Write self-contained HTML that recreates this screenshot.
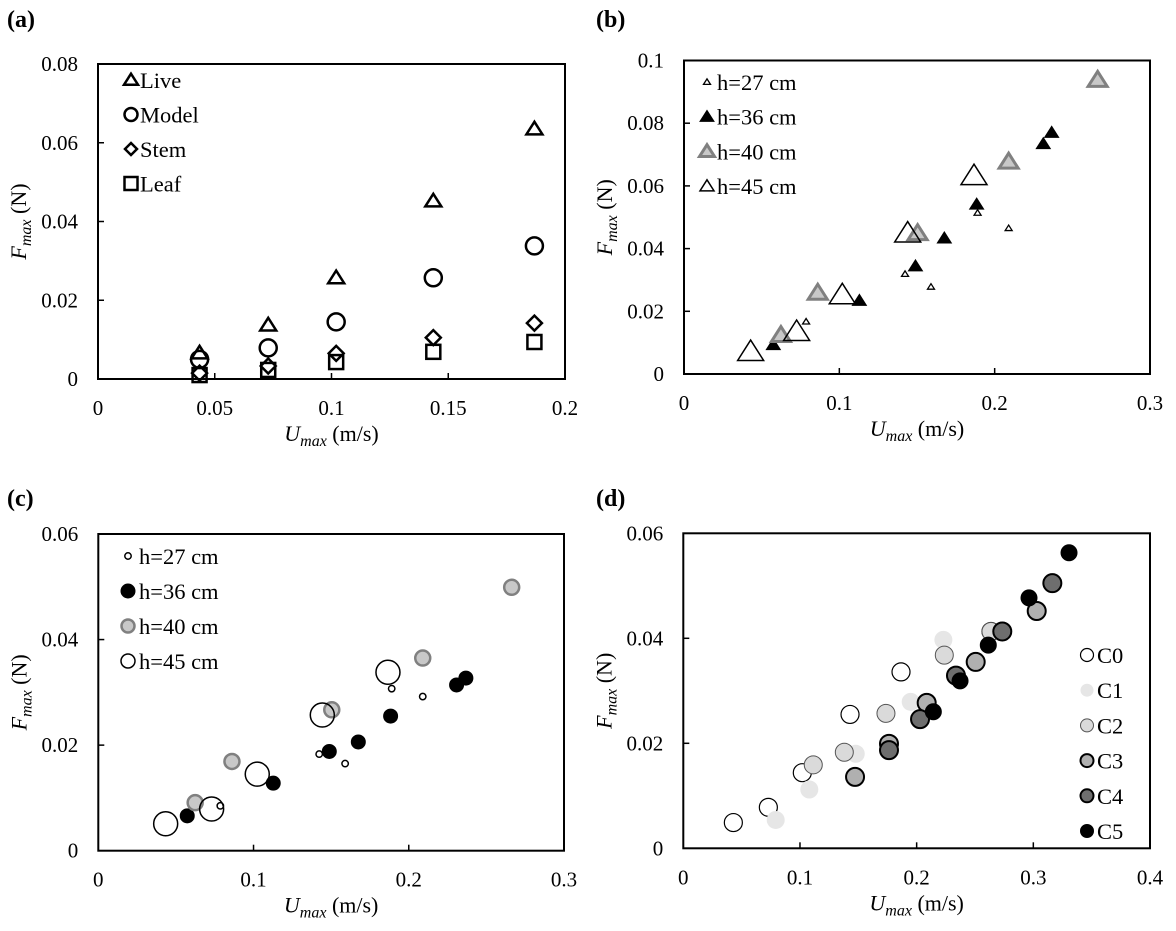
<!DOCTYPE html>
<html><head><meta charset="utf-8"><style>
body{margin:0;background:#fff}
svg{display:block;font-family:"Liberation Serif",serif}
</style></head><body>
<svg id="s" width="1176" height="931" viewBox="0 0 1176 931" xmlns="http://www.w3.org/2000/svg">
<text x="7" y="27" font-size="24" font-weight="bold">(a)</text>
<text x="596" y="27" font-size="24" font-weight="bold">(b)</text>
<text x="7" y="506" font-size="24" font-weight="bold">(c)</text>
<text x="596" y="506" font-size="24" font-weight="bold">(d)</text>
</svg>
<script>
// Panel a data
const aX = [0.0435, 0.0729, 0.102, 0.1436, 0.1869];
const aLive = [0.0066, 0.0137, 0.0257, 0.0452, 0.0635];
const aModel = [0.005, 0.0079, 0.0145, 0.0257, 0.0338];
const aStem = [0.0015, 0.0033, 0.0065, 0.0105, 0.0142];
const aLeaf = [0.001, 0.0023, 0.0043, 0.0069, 0.0094];
const aXTicks = [0, 0.05, 0.1, 0.15, 0.2];
const aYTicks = [0, 0.02, 0.04, 0.06, 0.08];
// Panel b data (triangles)
const b27X = [0.0786, 0.1423, 0.159, 0.189, 0.209];
const b27Y = [0.0167, 0.0319, 0.0278, 0.0514, 0.0465];
const b36X = [0.0575, 0.1129, 0.149, 0.1676, 0.1884, 0.2313, 0.2367];
const b36Y = [0.0093, 0.0234, 0.0344, 0.0433, 0.0541, 0.0734, 0.077];
const b40X = [0.0624, 0.0861, 0.1504, 0.209, 0.2663];
const b40Y = [0.0124, 0.0259, 0.0449, 0.0677, 0.0938];
const b45X = [0.0429, 0.0725, 0.1019, 0.144, 0.1867];
const b45Y = [0.0071, 0.0135, 0.0252, 0.0449, 0.0632];
const bXTicks = [0, 0.1, 0.2, 0.3];
const bYTicks = [0, 0.02, 0.04, 0.06, 0.08, 0.1];
// Panel c data (circles)
const c27X = [0.0786, 0.1423, 0.159, 0.189, 0.209];
const c27Y = [0.0085, 0.0183, 0.0165, 0.0307, 0.0292];
const c36X = [0.0573, 0.1127, 0.1488, 0.1675, 0.1883, 0.2308, 0.2368];
const c36Y = [0.0066, 0.0128, 0.0188, 0.0206, 0.0255, 0.0314, 0.0327];
const c40X = [0.0624, 0.0861, 0.1504, 0.209, 0.2663];
const c40Y = [0.0091, 0.0169, 0.0267, 0.0365, 0.0499];
const c45X = [0.0434, 0.073, 0.1024, 0.1443, 0.1866];
const c45Y = [0.0051, 0.0079, 0.0145, 0.0257, 0.0338];
const cXTicks = [0, 0.1, 0.2, 0.3];
const cYTicks = [0, 0.02, 0.04, 0.06];
// Panel d data
const d0X = [0.0429, 0.0729, 0.102, 0.1429, 0.1866, 0.2637];
const d0Y = [0.0049, 0.0078, 0.0144, 0.0255, 0.0336, 0.0413];
const d1X = [0.0792, 0.108, 0.1478, 0.1949, 0.2229];
const d1Y = [0.0054, 0.0112, 0.018, 0.0279, 0.0397];
const d2X = [0.1114, 0.138, 0.1737, 0.2237, 0.2637];
const d2Y = [0.0159, 0.0183, 0.0257, 0.0368, 0.0413];
const d3X = [0.1472, 0.1763, 0.2086, 0.2506, 0.3029];
const d3Y = [0.0136, 0.0199, 0.0277, 0.0355, 0.0452];
const d4X = [0.1763, 0.2029, 0.2337, 0.2734, 0.3163];
const d4Y = [0.0187, 0.0246, 0.0329, 0.0413, 0.0505];
const d5X = [0.2143, 0.2372, 0.2614, 0.2963, 0.3306];
const d5Y = [0.026, 0.0319, 0.0387, 0.0477, 0.0563];
const dXTicks = [0, 0.1, 0.2, 0.3, 0.4];
const dYTicks = [0, 0.02, 0.04, 0.06];

const NS = 'http://www.w3.org/2000/svg';
const svg = document.getElementById('s');
function mk(tag, attrs, parent) {
  const e = document.createElementNS(NS, tag);
  for (const k in attrs) e.setAttribute(k, attrs[k]);
  (parent || svg).appendChild(e);
  return e;
}
function scale(d0, d1, r0, r1) { return v => r0 + (v - d0) / (d1 - d0) * (r1 - r0); }

function marker(g, shape, cx, cy, sz, fill, stroke, sw) {
  let e;
  if (shape === 'circle') e = mk('circle', {cx: cx, cy: cy, r: sz}, g);
  else if (shape === 'tri') {
    const h = sz * 0.9;
    e = mk('polygon', {points: `${cx},${cy - h} ${cx - sz},${cy + h * 0.75} ${cx + sz},${cy + h * 0.75}`}, g);
  } else if (shape === 'diamond') {
    e = mk('polygon', {points: `${cx},${cy - sz} ${cx + sz},${cy} ${cx},${cy + sz} ${cx - sz},${cy}`}, g);
  } else {
    e = mk('rect', {x: cx - sz, y: cy - sz, width: 2 * sz, height: 2 * sz}, g);
  }
  e.setAttribute('fill', fill);
  e.setAttribute('stroke', stroke);
  e.setAttribute('stroke-width', sw);
  e.setAttribute('stroke-linejoin', 'miter');
  return e;
}

function panel(p) {
  const g = mk('g', {});
  
  
  const X = scale(p.xd[0], p.xd[1], p.l, p.r);
  const Y = scale(p.yd[0], p.yd[1], p.b, p.t);
  const frame = mk('rect', {x: p.l, y: p.t, width: p.r - p.l, height: p.b - p.t, fill: 'none', stroke: '#000', 'stroke-width': 2}, g);
  
  
  p.xt.forEach(v => {
    const x = X(v);
    if (v !== p.xd[0] && v !== p.xd[1]) {
      const tk = mk('line', {x1: x, x2: x, y1: p.b, y2: p.b - 6, stroke: '#000', 'stroke-width': 1.5}, g);
      
      
    }
    const t = mk('text', {x: x, y: p.b + 36, 'font-size': 21, 'text-anchor': 'middle'}, g);
    t.textContent = String(v);
    
    
  });
  p.yt.forEach(v => {
    const y = Y(v);
    if (v !== p.yd[0] && v !== p.yd[1]) {
      const tk = mk('line', {x1: p.l, x2: p.l + 6, y1: y, y2: y, stroke: '#000', 'stroke-width': 1.5}, g);
      
      
    }
    const t = mk('text', {x: p.l - 20, y: y + 7, 'font-size': 21, 'text-anchor': 'end'}, g);
    t.textContent = String(v);
    
    
  });
  const xt = mk('text', {x: (p.l + p.r) / 2, y: p.b + 62, 'font-size': 22, 'text-anchor': 'middle'}, g);
  xt.innerHTML = '<tspan font-style="italic">U</tspan><tspan font-style="italic" font-size="16" dy="5">max</tspan><tspan dy="-5"> (m/s)</tspan>';
  
  
  const cy = (p.t + p.b) / 2, cx = p.l - 72;
  const yt = mk('text', {x: cx, y: cy, 'font-size': 22, 'text-anchor': 'middle', transform: `rotate(-90 ${cx} ${cy})`}, g);
  yt.innerHTML = '<tspan font-style="italic">F</tspan><tspan font-style="italic" font-size="16" dy="5">max</tspan><tspan dy="-5"> (N)</tspan>';
  
  
  p.series.forEach(s => {
    const sg = mk('g', {}, g);
    
    
    s.x.forEach((xv, i) => {
      const m = marker(sg, s.shape, X(xv), Y(s.y[i]), s.sz, s.fill, s.stroke, s.sw);
      
      
    });
  });
  p.series.forEach((s, i) => {
    const lg = mk('g', {}, g);
    
    
    const ly = p.ly0 + i * p.ldy;
    const lsz = s.lsz || s.sz;
    marker(lg, s.shape, p.lx, ly, lsz, s.fill, s.stroke, s.sw);
    const t = mk('text', {x: p.lx + p.ltx, y: ly + 8, 'font-size': 22.5}, lg);
    t.textContent = s.label;
  });
}

panel({name: 'panel-a', l: 98, r: 565, t: 64, b: 379, xd: [0, 0.2], yd: [0, 0.08], xt: aXTicks, yt: aYTicks,
  lx: 131, ly0: 80, ldy: 34.5, ltx: 9,
  series: [
    {label: 'Live', shape: 'tri', x: aX, y: aLive, sz: 8, lsz: 7, fill: 'none', stroke: '#000', sw: 2.5},
    {label: 'Model', shape: 'circle', x: aX, y: aModel, sz: 8.5, lsz: 6.5, fill: 'none', stroke: '#000', sw: 2.5},
    {label: 'Stem', shape: 'diamond', x: aX, y: aStem, sz: 7.5, lsz: 6, fill: 'none', stroke: '#000', sw: 2.5},
    {label: 'Leaf', shape: 'square', x: aX, y: aLeaf, sz: 7, lsz: 6.5, fill: 'none', stroke: '#000', sw: 2.5}
  ]});
panel({name: 'panel-b', l: 684, r: 1150, t: 60.5, b: 374, xd: [0, 0.3], yd: [0, 0.1], xt: bXTicks, yt: bYTicks,
  lx: 707, ly0: 82, ldy: 34.7, ltx: 10,
  series: [
    {label: 'h=27 cm', shape: 'tri', x: b27X, y: b27Y, sz: 3.5, fill: 'none', stroke: '#000', sw: 1.3},
    {label: 'h=36 cm', shape: 'tri', x: b36X, y: b36Y, sz: 7, fill: '#000', stroke: '#000', sw: 1},
    {label: 'h=40 cm', shape: 'tri', x: b40X, y: b40Y, sz: 9.5, lsz: 7.5, fill: '#c8c8c8', stroke: '#808080', sw: 3},
    {label: 'h=45 cm', shape: 'tri', x: b45X, y: b45Y, sz: 13, lsz: 7, fill: 'none', stroke: '#000', sw: 1.5}
  ]});
panel({name: 'panel-c', l: 98.3, r: 564, t: 534, b: 850.7, xd: [0, 0.3], yd: [0, 0.06], xt: cXTicks, yt: cYTicks,
  lx: 128, ly0: 556, ldy: 35, ltx: 11,
  series: [
    {label: 'h=27 cm', shape: 'circle', x: c27X, y: c27Y, sz: 3.2, fill: '#fff', stroke: '#000', sw: 1.5},
    {label: 'h=36 cm', shape: 'circle', x: c36X, y: c36Y, sz: 7, fill: '#000', stroke: '#000', sw: 1},
    {label: 'h=40 cm', shape: 'circle', x: c40X, y: c40Y, sz: 7.5, lsz: 6.5, fill: '#c8c8c8', stroke: '#808080', sw: 2.5},
    {label: 'h=45 cm', shape: 'circle', x: c45X, y: c45Y, sz: 12, lsz: 7, fill: 'none', stroke: '#000', sw: 1.5}
  ]});
panel({name: 'panel-d', l: 683.3, r: 1150, t: 533.3, b: 848.3, xd: [0, 0.4], yd: [0, 0.06], xt: dXTicks, yt: dYTicks,
  lx: 1087, ly0: 655, ldy: 35.2, ltx: 10,
  series: [
    {label: 'C0', shape: 'circle', x: d0X, y: d0Y, sz: 9, lsz: 6.5, fill: '#fff', stroke: '#000', sw: 1.2},
    {label: 'C1', shape: 'circle', x: d1X, y: d1Y, sz: 9, lsz: 6.5, fill: '#e6e6e6', stroke: 'none', sw: 0},
    {label: 'C2', shape: 'circle', x: d2X, y: d2Y, sz: 9, lsz: 6.5, fill: '#dadada', stroke: '#555', sw: 1},
    {label: 'C3', shape: 'circle', x: d3X, y: d3Y, sz: 9, lsz: 6.5, fill: '#b0b0b0', stroke: '#000', sw: 2},
    {label: 'C4', shape: 'circle', x: d4X, y: d4Y, sz: 9, lsz: 6.5, fill: '#6e6e6e', stroke: '#000', sw: 2},
    {label: 'C5', shape: 'circle', x: d5X, y: d5Y, sz: 8, lsz: 6.5, fill: '#000', stroke: '#000', sw: 1}
  ]});
</script>
</body></html>
